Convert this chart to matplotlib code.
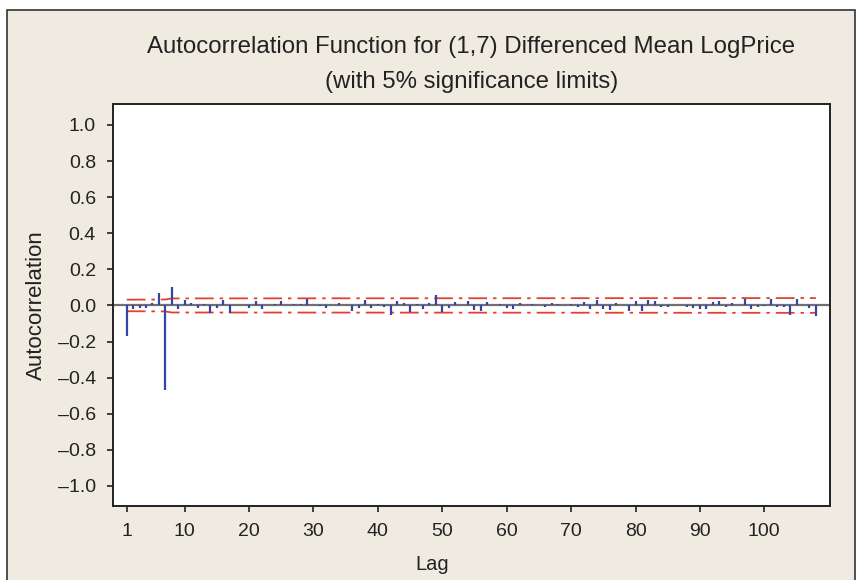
import matplotlib
matplotlib.use("Agg")
import matplotlib.pyplot as plt
from matplotlib.patches import Rectangle
from matplotlib.ticker import FuncFormatter

plt.rcParams['font.family'] = ['Liberation Sans', 'DejaVu Sans']
plt.rcParams['lines.scale_dashes'] = False

# ---- data ----
lags = list(range(1, 109))
acf = [
    -0.168, -0.017, -0.014, -0.013, 0.011, 0.070, -0.470, 0.103, -0.017, 0.032,   # 1-10
    0.012, -0.014, 0.006, -0.040, -0.013, 0.028, -0.040, 0.003, 0.005, -0.014,    # 11-20
    0.025, -0.021, 0.004, 0.006, 0.022, 0.001, 0.007, 0.007, 0.036, 0.001,        # 21-30
    -0.005, -0.014, 0.004, 0.012, 0.001, -0.030, -0.014, 0.032, -0.013, 0.010,    # 31-40
    -0.007, -0.053, 0.025, 0.016, -0.034, 0.007, -0.020, 0.012, 0.060, -0.038,    # 41-50
    -0.013, 0.018, 0.002, 0.027, -0.025, -0.032, 0.017, 0.001, 0.008, -0.012,     # 51-60
    -0.021, 0.014, 0.004, 0.010, 0.005, -0.008, 0.012, 0.006, 0.001, 0.006,       # 61-70
    -0.007, 0.020, -0.020, 0.028, -0.018, -0.023, 0.013, 0.001, -0.032, 0.022,    # 71-80
    -0.031, 0.032, 0.025, -0.007, -0.007, 0.001, 0.003, -0.008, -0.012, -0.019,   # 81-90
    -0.019, 0.020, 0.022, -0.011, 0.016, 0.003, 0.036, -0.017, -0.009, -0.005,    # 91-100
    0.037, -0.009, -0.008, -0.052, 0.033, 0.005, -0.015, -0.058,                  # 101-108
]
limit_lags = [1, 7, 8, 108]
limit_upper = [0.032, 0.033, 0.039, 0.041]
limit_lower = [-0.032, -0.033, -0.039, -0.041]

xticks = [1, 10, 20, 30, 40, 50, 60, 70, 80, 90, 100]
yticks = [-1.0, -0.8, -0.6, -0.4, -0.2, 0.0, 0.2, 0.4, 0.6, 0.8, 1.0]

title1 = "Autocorrelation Function for (1,7) Differenced Mean LogPrice"
title2 = "(with 5% significance limits)"

# ---- figure ----
W, H = 862, 580
fig = plt.figure(figsize=(W / 100, H / 100), dpi=100)
fig.patch.set_facecolor('white')

bg = fig.add_axes([0, 0, 1, 1], zorder=0)
bg.set_xlim(0, W)
bg.set_ylim(H, 0)
bg.axis('off')
bg.add_patch(Rectangle((7, 10), 855 - 7, 590 - 10, facecolor='#EFEBE1',
                       edgecolor='#333333', linewidth=1.2))

ax = fig.add_axes([113 / W, 1 - 506 / H, (830 - 113) / W, (506 - 104) / H], zorder=2)
ax.set_facecolor('white')
ax.set_xlim(-1.13, 110.2)
ax.set_ylim(-1.111, 1.116)

ax.axhline(0, color='#707070', linewidth=1.6, zorder=1)
ax.vlines(lags, 0, acf, color='#3346A8', linewidth=1.6, zorder=3)
dash = (0, (13.5, 4.3, 2.5, 4.3))
ax.plot(limit_lags, limit_upper, color='#E5402F', linewidth=1.3, linestyle=dash, zorder=2)
ax.plot(limit_lags, limit_lower, color='#E5402F', linewidth=1.3, linestyle=dash, zorder=2)

ax.set_xticks(xticks)
ax.set_yticks(yticks)
ax.yaxis.set_major_formatter(FuncFormatter(lambda v, p: f"{v:.1f}".replace('-', '\u2013') if abs(v) > 1e-9 else "0.0"))
ax.tick_params(direction='out', length=4.3, width=1.2, labelsize=14, colors='#222222')
ax.tick_params(axis='y', pad=8)
ax.tick_params(axis='x', pad=8)
for s in ax.spines.values():
    s.set_linewidth(1.4)
    s.set_color('#222222')

fig.text(471.5 / W, 1 - 47 / H, title1, ha='center', va='center', fontsize=17.3, color='#222222', zorder=5)
fig.text(471.5 / W, 1 - 82 / H, title2, ha='center', va='center', fontsize=17.3, color='#222222', zorder=5)
fig.text(36 / W, 1 - 305 / H, "Autocorrelation", rotation=90, ha='center', va='center',
         fontsize=16, color='#222222', zorder=5)
fig.text(432 / W, 1 - 565 / H, "Lag", ha='center', va='center', fontsize=14.5, color='#222222', zorder=5)

fig.savefig('out.png', dpi=100, facecolor=fig.get_facecolor())
